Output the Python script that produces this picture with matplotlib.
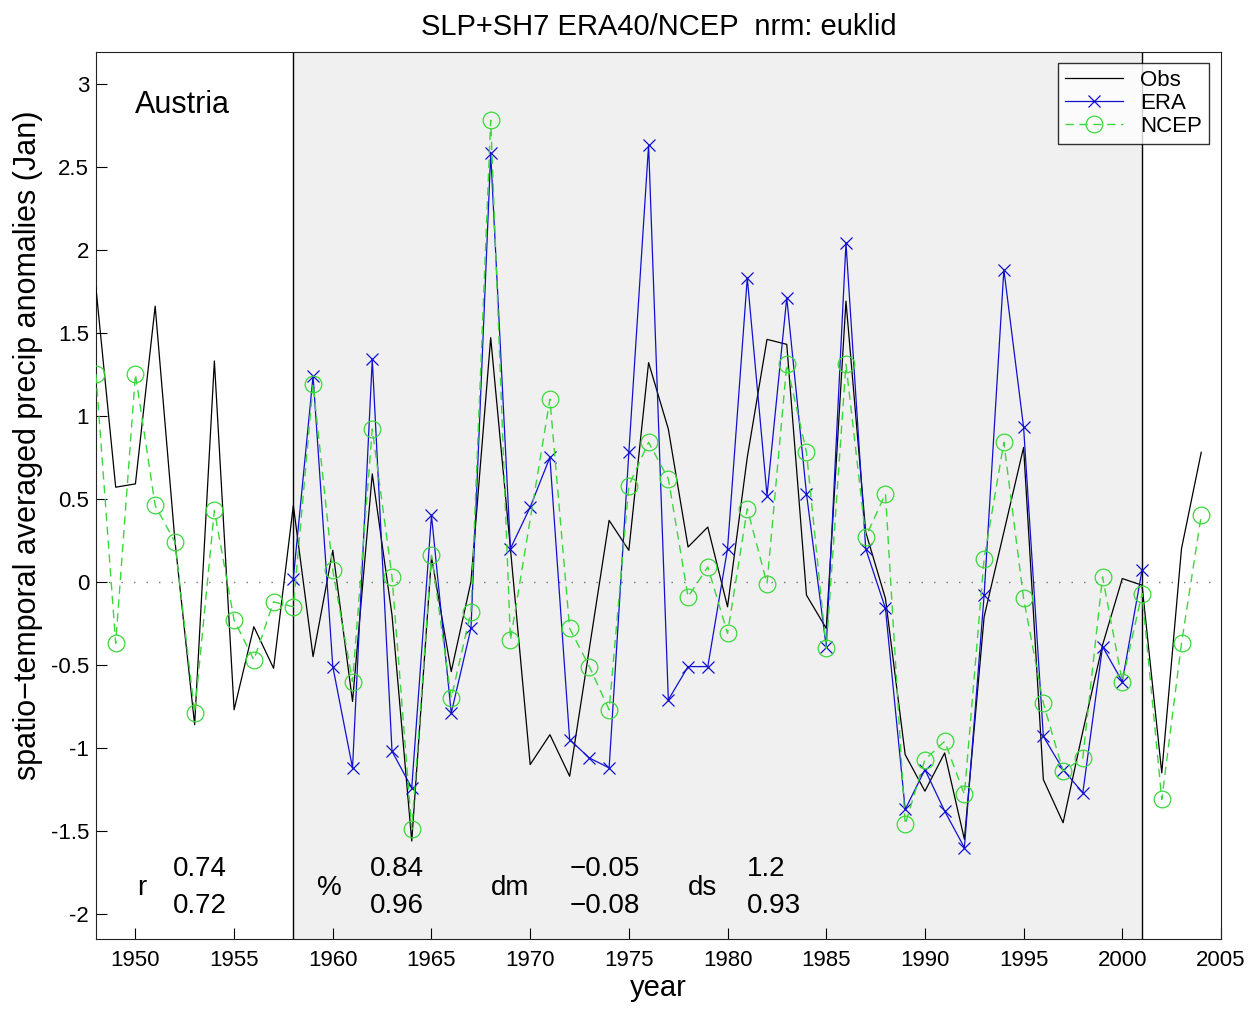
import numpy as np
import matplotlib
matplotlib.use("Agg")
import matplotlib.pyplot as plt

plt.rcParams['font.family'] = ['Liberation Sans', 'DejaVu Sans']
plt.rcParams['axes.unicode_minus'] = False

# values
obs_years = list(range(1948, 2005))
obs = [1.77, 0.57, 0.59, 1.66, 0.25, -0.86, 1.33, -0.77, -0.27, -0.52,
       0.46, -0.45, 0.19, -0.72, 0.65, -0.20, -1.56, 0.15, -0.54, 0.00,
       1.47, 0.20, -1.10, -0.92, -1.17, -0.40, 0.37, 0.19, 1.32, 0.92,
       0.21, 0.33, -0.15, 0.75, 1.46, 1.43, -0.08, -0.28, 1.69, 0.30,
       -0.10, -1.04, -1.26, -1.03, -1.55, -0.21, 0.30, 0.81, -1.19, -1.45,
       -0.90, -0.38, 0.02, -0.02, -1.15, 0.20, 0.78]

era_years = list(range(1958, 2002))
era = [0.02, 1.24, -0.51, -1.12, 1.34, -1.02, -1.24, 0.40, -0.79, -0.28,
       2.58, 0.20, 0.45, 0.75, -0.95, -1.06, -1.12, 0.78, 2.63, -0.71,
       -0.51, -0.51, 0.20, 1.83, 0.52, 1.71, 0.53, -0.39, 2.04, 0.20,
       -0.16, -1.37, -1.13, -1.38, -1.60, -0.08, 1.88, 0.93, -0.93, -1.13,
       -1.27, -0.39, -0.60, 0.07]

ncep_years = [y for y in range(1948, 2005) if y != 1970]
ncep = [1.25, -0.37, 1.25, 0.46, 0.24, -0.79, 0.43, -0.23, -0.47, -0.12,
        -0.15, 1.19, 0.07, -0.60, 0.92, 0.03, -1.49, 0.16, -0.70, -0.18,
        2.78, -0.35, 1.10, -0.28, -0.51, -0.77, 0.58, 0.84, 0.62,
        -0.09, 0.09, -0.31, 0.44, -0.01, 1.31, 0.78, -0.40, 1.31, 0.27,
        0.53, -1.46, -1.07, -0.96, -1.28, 0.14, 0.84, -0.10, -0.73, -1.14,
        -1.06, 0.03, -0.60, -0.07, -1.31, -0.37, 0.40]

period = (1958, 2001)
stat_names = ['r', '%', 'dm', 'ds']
stat_era = ['0.74', '0.84', '\u22120.05', '1.2']
stat_ncep = ['0.72', '0.96', '\u22120.08', '0.93']

fig = plt.figure(figsize=(12.51, 10.10), dpi=100)
ax = fig.add_axes([0.0767, 0.0703, 0.8993, 0.8782])

ax.axvspan(period[0], period[1], color='#f0f0f0', zorder=0)
ax.axvline(period[0], color='black', lw=1.0, zorder=1)
ax.axvline(period[1], color='black', lw=1.0, zorder=1)
ax.axhline(0, color='#777777', lw=1.0, ls=(0, (1, 8)), zorder=1)

ax.plot(obs_years, obs, color='black', lw=0.9, label='Obs', zorder=3)
ax.plot(era_years, era, color='#1010d0', lw=0.9, marker='x', ms=9,
        mew=0.9, label='ERA', zorder=4)
ax.plot(ncep_years, ncep, color='#3ad83a', lw=1.0, ls=(0, (6, 4)),
        marker='o', ms=12, mfc='none', mew=0.9, label='NCEP', zorder=5)

ax.set_xlim(1948, 2005)
ax.set_ylim(-2.15, 3.19)
ax.set_xticks(range(1950, 2006, 5))
yt = np.arange(-2, 3.01, 0.5)
ax.set_yticks(yt)
ax.set_yticklabels(['%g' % v for v in yt])
ax.tick_params(direction='in', length=8, labelsize=16)
ax.tick_params(axis='x', pad=8)
ax.tick_params(axis='y', pad=5)

ax.set_title('SLP+SH7 ERA40/NCEP  nrm: euklid', fontsize=21, pad=12)
ax.set_xlabel('year', fontsize=21, labelpad=2)
ax.set_ylabel('spatio\u2212temporal averaged precip anomalies (Jan)',
              fontsize=22)
ax.yaxis.set_label_coords(-0.047, 0.557)

ax.text(1950.0, 2.87, 'Austria', fontsize=22, va='center', ha='left')

name_x = [1950.1, 1959.2, 1968.0, 1978.0]
val_x = [1951.9, 1961.9, 1972.0, 1981.0]
for nm, nx, vx, a, b in zip(stat_names, name_x, val_x, stat_era, stat_ncep):
    ax.text(nx, -1.84, nm, fontsize=20, va='center', ha='left')
    ax.text(vx, -1.73, a, fontsize=20, va='center', ha='left')
    ax.text(vx, -1.95, b, fontsize=20, va='center', ha='left')

leg = ax.legend(loc='upper right', bbox_to_anchor=(0.9893, 0.9876),
                borderaxespad=0, fontsize=16, frameon=True, fancybox=False,
                handlelength=2.6, borderpad=0.3, labelspacing=0.1,
                handletextpad=0.8)
leg.get_frame().set_edgecolor('black')
leg.get_frame().set_linewidth(1.0)

for s in ax.spines.values():
    s.set_color('#222222')

fig.savefig('out.png', dpi=100)
